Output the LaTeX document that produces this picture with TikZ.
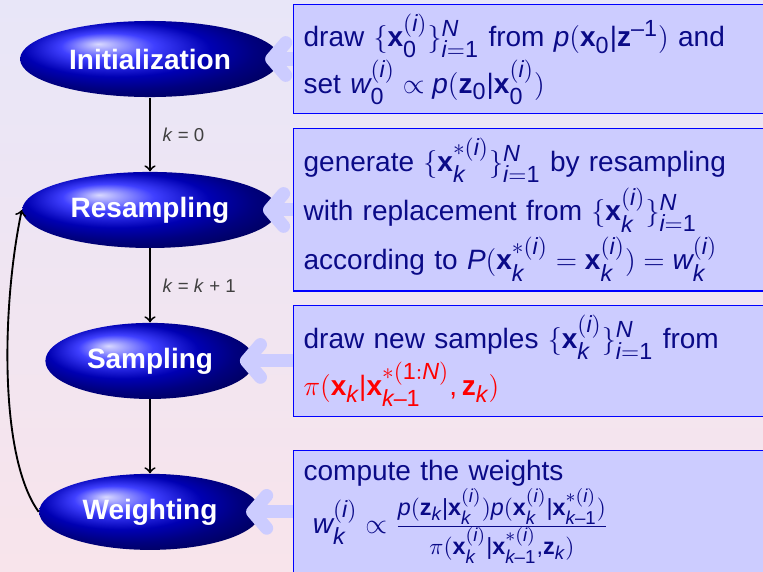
\documentclass[tikz,border=0pt,12pt]{standalone}
\usepackage{amsmath}
\usepackage{fontspec}
\setmainfont{Liberation Sans}
\usepackage[italic]{mathastext}
\usepackage{tikz}
\usetikzlibrary{shapes.geometric}
\usetikzlibrary{arrows.meta}
\usetikzlibrary{positioning}

\definecolor{canvastop}{RGB}{232,230,248}
\definecolor{canvasbottom}{RGB}{248,228,235}
\definecolor{infotext}{RGB}{10,10,135}

% sans digits in scripts, round braces from the symbol font
\newcommand{\nd}[1]{\text{#1}}
\newcommand{\lb}{\mathchar"4266}
\newcommand{\rb}{\mathchar"5267}

\pgfdeclarelayer{front}
\pgfsetlayers{main,front}

\begin{document}
\begin{tikzpicture}[x=0.4286pt, y=0.4286pt, >=to, node distance=64.7pt,
  phase/.style={ellipse, ball color=blue, text=white, font=\bfseries,
    minimum height=32.6pt, inner xsep=4.7pt},
  infobox/.style={rectangle, anchor=west, draw=blue, line width=0.5pt,
    fill=blue!20, text=infotext, text width=240pt, align=left,
    inner xsep=4.3pt},
  feed/.style={draw=blue!20, line width=5.6pt,
    -{Straight Barb[round, length=6pt, width=14pt]},
    shorten >=-6.5pt},
  klabel/.style={font=\scriptsize, text=black!75, inner xsep=5pt}]

\useasboundingbox (0,0) rectangle (763,-571);
\clip (0,0) rectangle (763,-571);
\fill[top color=canvastop, bottom color=canvasbottom] (0,0) rectangle (763,-571);

\node[name=init, phase] at (150,-59) {Initialization};
\node[name=resample, phase, below of=init] {Resampling};
\node[name=sample, phase, below of=resample] {Sampling};
\node[name=weight, phase, below of=sample] {Weighting};

\coordinate (infocol) at (293,0);

\begin{pgfonlayer}{front}
\node[name=init_info, infobox, minimum height=44.6pt] at (infocol |- init)
  {draw $\lb\mathbf{x}_{\nd{0}}^{(i)}\rb_{i=\nd{1}}^N$ from $p(\mathbf{x}_{\nd{0}}|\mathbf{z}^{-\nd{1}})$ and\\
   set $w_{\nd{0}}^{(i)}\propto p(\mathbf{z}_{\nd{0}}|\mathbf{x}_{\nd{0}}^{(i)})$};
\node[name=resample_info, infobox, minimum height=63.9pt] at (infocol |- resample)
  {generate $\lb\mathbf{x}_k^{*(i)}\rb_{i=\nd{1}}^N$ by resampling\\[1pt]
   with replacement from $\lb\mathbf{x}_k^{(i)}\rb_{i=\nd{1}}^N$\\[1pt]
   according to $P(\mathbf{x}_k^{*(i)}=\mathbf{x}_k^{(i)})=w_k^{(i)}$};
\node[name=sample_info, infobox, minimum height=45.9pt] at (infocol |- sample)
  {draw new samples $\lb\mathbf{x}_k^{(i)}\rb_{i=\nd{1}}^N$ from\\
   {\color{red}$\pi(\mathbf{x}_k|\mathbf{x}_{k-\nd{1}}^{*(\nd{1}:N)},\mathbf{z}_k)$}};
\node[name=weight_info, infobox, minimum height=51.4pt] at (infocol |- weight)
  {compute the weights\\
   \hspace*{4pt}$w_k^{(i)}\propto\frac{p(\mathbf{z}_k|\mathbf{x}_k^{(i)})p(\mathbf{x}_k^{(i)}|\mathbf{x}_{k-\nd{1}}^{*(i)})}{\pi(\mathbf{x}_k^{(i)}|\mathbf{x}_{k-\nd{1}}^{*(i)},\mathbf{z}_k)}$};
\end{pgfonlayer}

% steps of the filter
\draw[line width=0.8pt](init.south) edge[->]node[klabel, right]{\textit{k}\;=\;0}(resample.north);
\draw[line width=0.8pt](resample.south) edge[->]node[klabel, right]{\textit{k}\;=\;\textit{k}\;+\;1}(sample.north);
\draw[line width=0.8pt](sample.south) edge[->](weight.north);
\draw[line width=0.8pt, ->](weight.west) .. controls +(-40,55) and +(-20,-95) .. (resample.west);

% what each step does
\draw[feed](init_info.west) -- (init.east);
\draw[feed](resample_info.west) -- (resample.east);
\draw[feed](sample_info.west) -- (sample.east);
\draw[feed](weight_info.west) -- (weight.east);

\end{tikzpicture}
\end{document}
